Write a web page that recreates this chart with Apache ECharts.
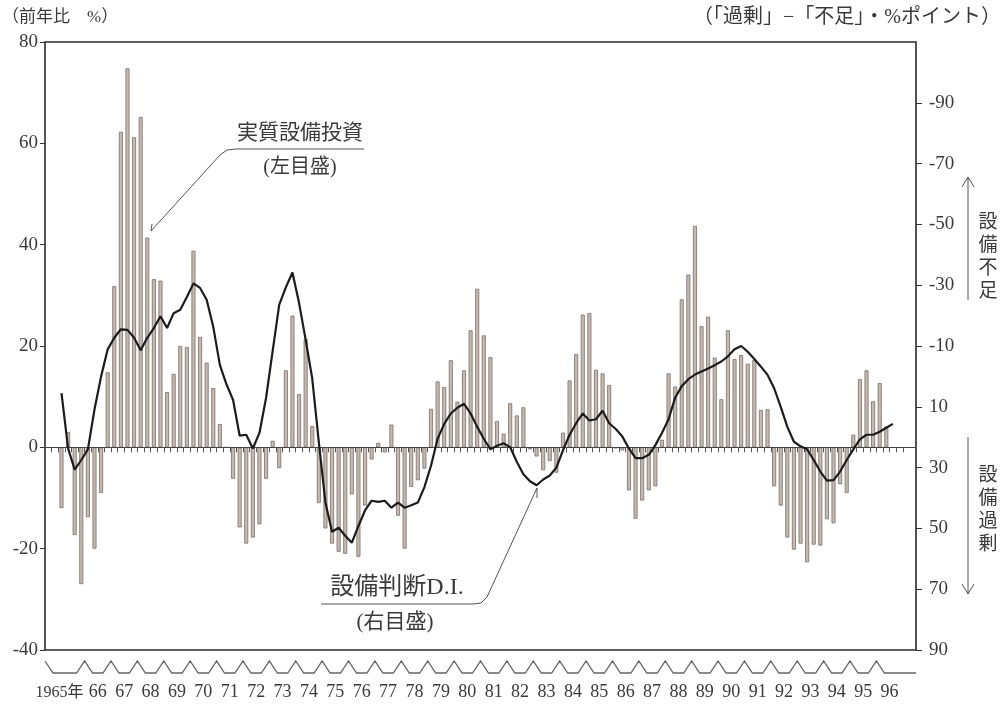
<!DOCTYPE html>
<html>
<head>
<meta charset="utf-8">
<script src="https://cdn.jsdelivr.net/npm/echarts@6/dist/echarts.min.js"></script>
<style>
  html, body { margin: 0; padding: 0; background: #fff; }
  #chart { width: 1003px; height: 709px; }
</style>
</head>
<body>
<div id="chart"></div>
<script>
// 1965-1996, quarterly
var years = [];
for (var y = 1965; y <= 1996; y++) years.push(y);

// 実質設備投資 前年比 % (left axis), 1965Q1 - 1996Q2
var investment = [
  -12, 3, -17.3, -27,   -13.8, -20, -9, 14.8,   31.8, 62.3, 74.8, 61.2,   65.2, 41.4, 33.2, 32.9,
  10.9, 14.5, 20, 19.8,   38.8, 21.8, 16.7, 11.7,   4.6, 0, -6.2, -15.8,   -19, -17.8, -15.2, -6.2,
  1.3, -4.1, 15.2, 26,   10.5, 21.4, 4.2, -11,   -16, -19, -20.6, -21,   -9.3, -21.6, -11.5, -2.4,
  0.9, -1, 4.5, -13.5,   -20, -7.8, -6.5, -4.2,   7.6, 13, 11.9, 17.2,   9, 15.2, 23.1, 31.3,
  22.1, 17.8, 5.2, 2.7,   8.7, 6.3, 7.9, -0.4,   -1.8, -4.5, -2.7, -5,   2.9, 13.2, 18.4, 26.2,
  26.5, 15.3, 14.6, 12.3,   -0.2, -0.6, -8.5, -14.1,   -10.5, -8.5, -7.7, 1.5,   14.6, 12, 29.2, 34.1,
  43.7, 23.9, 25.8, 17.7,   9.5, 23.1, 17.4, 18.2,   16.5, 17.3, 7.4, 7.5,   -7.7, -11.5, -17.8, -20.2,
  -19, -22.7, -19.2, -19.4,   -14.2, -15, -7.3, -9,   2.5, 13.5, 15.2, 9.1,   12.7, 4.1
];

// 設備判断D.I. 「過剰」-「不足」 % points (right axis), 1965Q1 - 1996Q3
var equipmentDI = [
  5.5, 23.7, 30.7, 27.5,   24, 10.9, 0, -8.9,   -12.7, -15.5, -15.3, -12.7,   -8.6, -12.7, -15.9, -19.8,
  -15.9, -20.8, -21.9, -26.1,   -30.6, -29.1, -25.2, -16.3,   -3.8, 2.6, 7.7, 19.5,   19.2, 23.7, 18.6, 7.1,
  -8.3, -23.6, -29.3, -34.2,   -24.2, -12.1, 0.7, 21.7,   41.5, 51.1, 49.8, 52.4,   54.7, 49.2, 44.1, 40.9,
  41.3, 40.9, 43.2, 41.5,   43.2, 42.4, 41.5, 36.4,   29.4, 20.5, 15.6, 12.2,   10.3, 9, 12.2, 16.6,
  20.5, 24, 22.8, 22,   23.3, 28.1, 32.2, 34.5,   35.8, 33.9, 32.6, 30,   24.3, 19.2, 15.4, 12.2,
  14.5, 14.1, 11.3, 15.4,   17.3, 19.8, 23.7, 26.9,   26.9, 25.8, 22.6, 18.6,   14.1, 7, 3.2, 0.9,
  -0.6, -1.6, -2.6, -3.7,   -4.9, -6.6, -8.9, -10,   -8.1, -5.7, -3.2, -0.5,   3.9, 10, 16.6, 21.5,
  23, 24, 27.5, 31.3,   34.3, 34.1, 31.3, 27.5,   24, 20.7, 19.2, 19.2,   18.2, 16.9, 15.6
];

var rightTicks = [-90, -70, -50, -30, -10, 10, 30, 50, 70, 90];

// two empty slots each side so the frame is wider than the data
var PAD = 2;
var categories = [];
for (var p = 0; p < PAD; p++) categories.push('L' + p);
years.forEach(function (yr) {
  for (var q = 1; q <= 4; q++) categories.push(yr + 'Q' + q);
});
for (var p = 0; p < PAD; p++) categories.push('R' + p);

function padded(arr) {
  var out = [];
  for (var i = 0; i < PAD; i++) out.push(null);
  arr.forEach(function (v) { out.push(v); });
  while (out.length < categories.length) out.push(null);
  return out;
}

var FONT = "'Liberation Serif', 'Noto Sans CJK JP', serif";
var TXT = '#3a3a3a';

var chart = echarts.init(document.getElementById('chart'));
chart.setOption({
  animation: false,
  backgroundColor: '#fff',
  grid: {
    left: 45, right: 87, top: 42, bottom: 59,
    show: true, borderColor: '#2b2b2b', borderWidth: 1.6
  },
  xAxis: {
    type: 'category',
    data: categories,
    boundaryGap: true,
    axisLine: { show: false },
    axisTick: {
      show: true,
      length: 5,
      interval: function (idx) { return idx <= PAD + years.length * 4; },
      lineStyle: { color: '#555', width: 1 }
    },
    axisLabel: {
      interval: function (idx, val) { return /Q2$/.test(val); },
      // 1965 gets its own wider label below
      formatter: function (val) {
        var yr = parseInt(val, 10);
        return yr === 1965 ? '' : String(yr).slice(2);
      },
      padding: [0, 0, 0, 6.6],
      margin: 33,
      fontSize: 18,
      fontFamily: FONT,
      color: TXT
    },
    splitLine: { show: false }
  },
  yAxis: [
    {
      type: 'value',
      min: -40, max: 80, interval: 20,
      position: 'left',
      axisLine: { show: false },
      axisTick: { show: true, length: 5, lineStyle: { color: '#333' } },
      axisLabel: { margin: 7, fontSize: 19, fontFamily: FONT, color: TXT },
      splitLine: { show: false }
    },
    {
      type: 'value',
      min: -110, max: 90,
      inverse: true,
      position: 'right',
      axisLine: { show: false },
      axisTick: { show: true, length: 6, customValues: rightTicks, lineStyle: { color: '#333' } },
      axisLabel: { customValues: rightTicks, margin: 13, fontSize: 19, fontFamily: FONT, color: TXT },
      splitLine: { show: false }
    }
  ],
  series: [
    {
      name: '実質設備投資',
      type: 'bar',
      yAxisIndex: 0,
      data: padded(investment),
      barWidth: 4,
      itemStyle: { color: '#c6bab0', borderColor: '#7a6e67', borderWidth: 0.8 },
      markLine: {
        silent: true,
        symbol: 'none',
        label: { show: false },
        lineStyle: { color: '#444', width: 1, type: 'solid' },
        data: [{ yAxis: 0 }]
      }
    },
    {
      name: '設備判断D.I.',
      type: 'line',
      yAxisIndex: 1,
      data: padded(equipmentDI),
      symbol: 'none',
      z: 5,
      lineStyle: { color: '#1c1c1c', width: 2.2 }
    }
  ]
});

// decorations: wavy year brackets under the axis, notes, arrows
function catX(idx) {
  var px = chart.convertToPixel({ xAxisIndex: 0 }, idx);
  return Array.isArray(px) ? px[0] : px;
}
var band = catX(1) - catX(0);
var left = 45, right = 1003 - 87;
var zTop = 661, zBot = 673;
var zig = [[left, zTop], [left + 8, zBot]];
for (var k = 1; k < years.length; k++) {
  var bx = catX(PAD + k * 4) - band / 2;
  zig.push([bx - 8, zBot], [bx, zTop], [bx + 8, zBot]);
}
zig.push([right, zBot]);

var gText = function (text, x, y, size, align, extra) {
  var st = { text: text, x: x, y: y, font: size + 'px ' + FONT, fill: TXT, align: align || 'left', verticalAlign: 'middle' };
  if (extra) for (var key in extra) st[key] = extra[key];
  return { type: 'text', silent: true, style: st };
};
var gLine = function (pts, w, c) {
  return { type: 'polyline', silent: true, shape: { points: pts }, style: { stroke: c || '#555', lineWidth: w || 1, fill: null } };
};

chart.setOption({
  graphic: [
    gLine(zig, 1.3, '#666'),
    gText('1965年', catX(PAD + 4) - band / 2 - 1, 693, 16, 'right'),
    gText('（前年比　%）', 2, 18, 17, 'left'),
    gText('（「過剰」−「不足」・%ポイント）', 1001, 18, 20, 'right'),

    gText('実質設備投資', 300, 133, 21, 'center'),
    gText('(左目盛)', 300, 168, 20, 'center'),
    gLine([[364, 149], [236, 149]]),
    gLine([[236, 149], [227, 150], [220, 155], [151, 231]]),
    gLine([[151, 231], [152, 224]]),

    gText('設備判断D.I.', 397, 588, 24, 'center'),
    gText('(右目盛)', 395, 622, 21, 'center'),
    gLine([[321, 604], [473, 604]]),
    gLine([[473, 604], [481, 603], [487, 597], [537, 488]]),
    gLine([[537, 488], [537, 498]]),

    gLine([[968, 300], [968, 177]]),
    gLine([[962, 187], [968, 177], [974, 187]]),
    gText('設\n備\n不\n足', 988, 258, 19, 'center', { lineHeight: 23 }),
    gLine([[968, 437], [968, 594]]),
    gLine([[962, 584], [968, 594], [974, 584]]),
    gText('設\n備\n過\n剰', 988, 511, 19, 'center', { lineHeight: 23 })
  ]
});
</script>
</body>
</html>
